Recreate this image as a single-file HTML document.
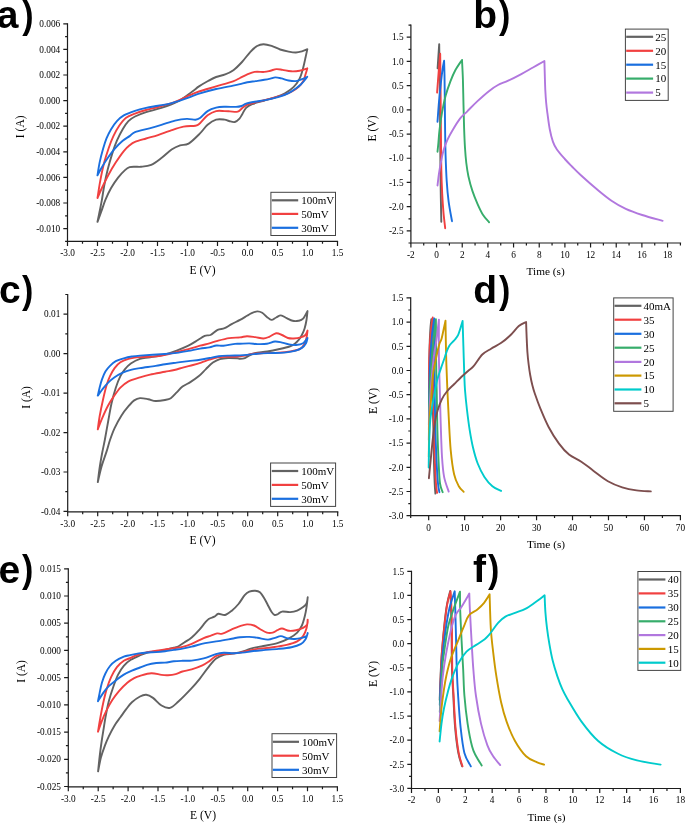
<!DOCTYPE html>
<html><head><meta charset="utf-8"><title>Figure</title>
<style>html,body{margin:0;padding:0;background:#fff;}body{width:685px;height:823px;overflow:hidden;font-family:"Liberation Serif",serif;}svg{display:block;will-change:transform;}</style>
</head><body>
<svg width="685" height="823" viewBox="0 0 685 823">
<text x="67.5" y="256.2" font-size="9.3" text-anchor="middle" font-family="Liberation Serif" font-weight="normal">-3.0</text>
<text x="97.5" y="256.2" font-size="9.3" text-anchor="middle" font-family="Liberation Serif" font-weight="normal">-2.5</text>
<text x="127.5" y="256.2" font-size="9.3" text-anchor="middle" font-family="Liberation Serif" font-weight="normal">-2.0</text>
<text x="157.5" y="256.2" font-size="9.3" text-anchor="middle" font-family="Liberation Serif" font-weight="normal">-1.5</text>
<text x="187.5" y="256.2" font-size="9.3" text-anchor="middle" font-family="Liberation Serif" font-weight="normal">-1.0</text>
<text x="217.5" y="256.2" font-size="9.3" text-anchor="middle" font-family="Liberation Serif" font-weight="normal">-0.5</text>
<text x="247.5" y="256.2" font-size="9.3" text-anchor="middle" font-family="Liberation Serif" font-weight="normal">0.0</text>
<text x="277.5" y="256.2" font-size="9.3" text-anchor="middle" font-family="Liberation Serif" font-weight="normal">0.5</text>
<text x="307.5" y="256.2" font-size="9.3" text-anchor="middle" font-family="Liberation Serif" font-weight="normal">1.0</text>
<text x="337.5" y="256.2" font-size="9.3" text-anchor="middle" font-family="Liberation Serif" font-weight="normal">1.5</text>
<text x="60.2" y="27" font-size="9.3" text-anchor="end" font-family="Liberation Serif" font-weight="normal">0.006</text>
<text x="60.2" y="52.6" font-size="9.3" text-anchor="end" font-family="Liberation Serif" font-weight="normal">0.004</text>
<text x="60.2" y="78.2" font-size="9.3" text-anchor="end" font-family="Liberation Serif" font-weight="normal">0.002</text>
<text x="60.2" y="103.8" font-size="9.3" text-anchor="end" font-family="Liberation Serif" font-weight="normal">0.000</text>
<text x="60.2" y="129.4" font-size="9.3" text-anchor="end" font-family="Liberation Serif" font-weight="normal">-0.002</text>
<text x="60.2" y="155" font-size="9.3" text-anchor="end" font-family="Liberation Serif" font-weight="normal">-0.004</text>
<text x="60.2" y="180.6" font-size="9.3" text-anchor="end" font-family="Liberation Serif" font-weight="normal">-0.006</text>
<text x="60.2" y="206.2" font-size="9.3" text-anchor="end" font-family="Liberation Serif" font-weight="normal">-0.008</text>
<text x="60.2" y="231.8" font-size="9.3" text-anchor="end" font-family="Liberation Serif" font-weight="normal">-0.010</text>
<path d="M67.5,241.4v4.5M82.5,241.4v2.4M97.5,241.4v4.5M112.5,241.4v2.4M127.5,241.4v4.5M142.5,241.4v2.4M157.5,241.4v4.5M172.5,241.4v2.4M187.5,241.4v4.5M202.5,241.4v2.4M217.5,241.4v4.5M232.5,241.4v2.4M247.5,241.4v4.5M262.5,241.4v2.4M277.5,241.4v4.5M292.5,241.4v2.4M307.5,241.4v4.5M322.5,241.4v2.4M337.5,241.4v4.5M67.5,23.8h-4.2M67.5,36.6h-2.4M67.5,49.4h-4.2M67.5,62.2h-2.4M67.5,75h-4.2M67.5,87.8h-2.4M67.5,100.6h-4.2M67.5,113.4h-2.4M67.5,126.2h-4.2M67.5,139h-2.4M67.5,151.8h-4.2M67.5,164.6h-2.4M67.5,177.4h-4.2M67.5,190.2h-2.4M67.5,203h-4.2M67.5,215.8h-2.4M67.5,228.6h-4.2M67.5,241.4h-2.4" stroke="#1c1c1c" stroke-width="1.2" fill="none"/>
<path d="M67.5,23.8V241.4H337.5" stroke="#1c1c1c" stroke-width="1.2" fill="none" stroke-linejoin="miter" stroke-linecap="square"/>
<text x="67.7" y="526.6" font-size="9.3" text-anchor="middle" font-family="Liberation Serif" font-weight="normal">-3.0</text>
<text x="97.7" y="526.6" font-size="9.3" text-anchor="middle" font-family="Liberation Serif" font-weight="normal">-2.5</text>
<text x="127.7" y="526.6" font-size="9.3" text-anchor="middle" font-family="Liberation Serif" font-weight="normal">-2.0</text>
<text x="157.7" y="526.6" font-size="9.3" text-anchor="middle" font-family="Liberation Serif" font-weight="normal">-1.5</text>
<text x="187.7" y="526.6" font-size="9.3" text-anchor="middle" font-family="Liberation Serif" font-weight="normal">-1.0</text>
<text x="217.7" y="526.6" font-size="9.3" text-anchor="middle" font-family="Liberation Serif" font-weight="normal">-0.5</text>
<text x="247.7" y="526.6" font-size="9.3" text-anchor="middle" font-family="Liberation Serif" font-weight="normal">0.0</text>
<text x="277.7" y="526.6" font-size="9.3" text-anchor="middle" font-family="Liberation Serif" font-weight="normal">0.5</text>
<text x="307.7" y="526.6" font-size="9.3" text-anchor="middle" font-family="Liberation Serif" font-weight="normal">1.0</text>
<text x="337.7" y="526.6" font-size="9.3" text-anchor="middle" font-family="Liberation Serif" font-weight="normal">1.5</text>
<text x="60.4" y="317.42" font-size="9.3" text-anchor="end" font-family="Liberation Serif" font-weight="normal">0.01</text>
<text x="60.4" y="356.86" font-size="9.3" text-anchor="end" font-family="Liberation Serif" font-weight="normal">0.00</text>
<text x="60.4" y="396.3" font-size="9.3" text-anchor="end" font-family="Liberation Serif" font-weight="normal">-0.01</text>
<text x="60.4" y="435.74" font-size="9.3" text-anchor="end" font-family="Liberation Serif" font-weight="normal">-0.02</text>
<text x="60.4" y="475.18" font-size="9.3" text-anchor="end" font-family="Liberation Serif" font-weight="normal">-0.03</text>
<text x="60.4" y="514.62" font-size="9.3" text-anchor="end" font-family="Liberation Serif" font-weight="normal">-0.04</text>
<path d="M67.7,511.8v4.5M82.7,511.8v2.4M97.7,511.8v4.5M112.7,511.8v2.4M127.7,511.8v4.5M142.7,511.8v2.4M157.7,511.8v4.5M172.7,511.8v2.4M187.7,511.8v4.5M202.7,511.8v2.4M217.7,511.8v4.5M232.7,511.8v2.4M247.7,511.8v4.5M262.7,511.8v2.4M277.7,511.8v4.5M292.7,511.8v2.4M307.7,511.8v4.5M322.7,511.8v2.4M337.7,511.8v4.5M67.7,294.5h-2.4M67.7,314.22h-4.2M67.7,333.94h-2.4M67.7,353.66h-4.2M67.7,373.38h-2.4M67.7,393.1h-4.2M67.7,412.82h-2.4M67.7,432.54h-4.2M67.7,452.26h-2.4M67.7,471.98h-4.2M67.7,491.7h-2.4M67.7,511.42h-4.2" stroke="#1c1c1c" stroke-width="1.2" fill="none"/>
<path d="M67.7,294.5V511.8H337.7" stroke="#1c1c1c" stroke-width="1.2" fill="none" stroke-linejoin="miter" stroke-linecap="square"/>
<text x="68.3" y="801.6" font-size="9.3" text-anchor="middle" font-family="Liberation Serif" font-weight="normal">-3.0</text>
<text x="98.2" y="801.6" font-size="9.3" text-anchor="middle" font-family="Liberation Serif" font-weight="normal">-2.5</text>
<text x="128.1" y="801.6" font-size="9.3" text-anchor="middle" font-family="Liberation Serif" font-weight="normal">-2.0</text>
<text x="158" y="801.6" font-size="9.3" text-anchor="middle" font-family="Liberation Serif" font-weight="normal">-1.5</text>
<text x="187.9" y="801.6" font-size="9.3" text-anchor="middle" font-family="Liberation Serif" font-weight="normal">-1.0</text>
<text x="217.8" y="801.6" font-size="9.3" text-anchor="middle" font-family="Liberation Serif" font-weight="normal">-0.5</text>
<text x="247.7" y="801.6" font-size="9.3" text-anchor="middle" font-family="Liberation Serif" font-weight="normal">0.0</text>
<text x="277.6" y="801.6" font-size="9.3" text-anchor="middle" font-family="Liberation Serif" font-weight="normal">0.5</text>
<text x="307.5" y="801.6" font-size="9.3" text-anchor="middle" font-family="Liberation Serif" font-weight="normal">1.0</text>
<text x="337.4" y="801.6" font-size="9.3" text-anchor="middle" font-family="Liberation Serif" font-weight="normal">1.5</text>
<text x="61" y="572" font-size="9.3" text-anchor="end" font-family="Liberation Serif" font-weight="normal">0.015</text>
<text x="61" y="599.21" font-size="9.3" text-anchor="end" font-family="Liberation Serif" font-weight="normal">0.010</text>
<text x="61" y="626.42" font-size="9.3" text-anchor="end" font-family="Liberation Serif" font-weight="normal">0.005</text>
<text x="61" y="653.64" font-size="9.3" text-anchor="end" font-family="Liberation Serif" font-weight="normal">0.000</text>
<text x="61" y="680.85" font-size="9.3" text-anchor="end" font-family="Liberation Serif" font-weight="normal">-0.005</text>
<text x="61" y="708.06" font-size="9.3" text-anchor="end" font-family="Liberation Serif" font-weight="normal">-0.010</text>
<text x="61" y="735.27" font-size="9.3" text-anchor="end" font-family="Liberation Serif" font-weight="normal">-0.015</text>
<text x="61" y="762.49" font-size="9.3" text-anchor="end" font-family="Liberation Serif" font-weight="normal">-0.020</text>
<text x="61" y="789.7" font-size="9.3" text-anchor="end" font-family="Liberation Serif" font-weight="normal">-0.025</text>
<path d="M68.3,786.8v4.5M83.25,786.8v2.4M98.2,786.8v4.5M113.15,786.8v2.4M128.1,786.8v4.5M143.05,786.8v2.4M158,786.8v4.5M172.95,786.8v2.4M187.9,786.8v4.5M202.85,786.8v2.4M217.8,786.8v4.5M232.75,786.8v2.4M247.7,786.8v4.5M262.65,786.8v2.4M277.6,786.8v4.5M292.55,786.8v2.4M307.5,786.8v4.5M322.45,786.8v2.4M337.4,786.8v4.5M68.3,568.8h-4.2M68.3,582.41h-2.4M68.3,596.01h-4.2M68.3,609.62h-2.4M68.3,623.22h-4.2M68.3,636.83h-2.4M68.3,650.44h-4.2M68.3,664.04h-2.4M68.3,677.65h-4.2M68.3,691.26h-2.4M68.3,704.86h-4.2M68.3,718.47h-2.4M68.3,732.07h-4.2M68.3,745.68h-2.4M68.3,759.29h-4.2M68.3,772.89h-2.4M68.3,786.5h-4.2" stroke="#1c1c1c" stroke-width="1.2" fill="none"/>
<path d="M68.3,568.8V786.8H337.4" stroke="#1c1c1c" stroke-width="1.2" fill="none" stroke-linejoin="miter" stroke-linecap="square"/>
<text x="410.9" y="257.8" font-size="9.3" text-anchor="middle" font-family="Liberation Serif" font-weight="normal">-2</text>
<text x="436.57" y="257.8" font-size="9.3" text-anchor="middle" font-family="Liberation Serif" font-weight="normal">0</text>
<text x="462.23" y="257.8" font-size="9.3" text-anchor="middle" font-family="Liberation Serif" font-weight="normal">2</text>
<text x="487.9" y="257.8" font-size="9.3" text-anchor="middle" font-family="Liberation Serif" font-weight="normal">4</text>
<text x="513.56" y="257.8" font-size="9.3" text-anchor="middle" font-family="Liberation Serif" font-weight="normal">6</text>
<text x="539.23" y="257.8" font-size="9.3" text-anchor="middle" font-family="Liberation Serif" font-weight="normal">8</text>
<text x="564.9" y="257.8" font-size="9.3" text-anchor="middle" font-family="Liberation Serif" font-weight="normal">10</text>
<text x="590.56" y="257.8" font-size="9.3" text-anchor="middle" font-family="Liberation Serif" font-weight="normal">12</text>
<text x="616.23" y="257.8" font-size="9.3" text-anchor="middle" font-family="Liberation Serif" font-weight="normal">14</text>
<text x="641.89" y="257.8" font-size="9.3" text-anchor="middle" font-family="Liberation Serif" font-weight="normal">16</text>
<text x="667.56" y="257.8" font-size="9.3" text-anchor="middle" font-family="Liberation Serif" font-weight="normal">18</text>
<text x="403.6" y="40.41" font-size="9.3" text-anchor="end" font-family="Liberation Serif" font-weight="normal">1.5</text>
<text x="403.6" y="64.61" font-size="9.3" text-anchor="end" font-family="Liberation Serif" font-weight="normal">1.0</text>
<text x="403.6" y="88.83" font-size="9.3" text-anchor="end" font-family="Liberation Serif" font-weight="normal">0.5</text>
<text x="403.6" y="113.04" font-size="9.3" text-anchor="end" font-family="Liberation Serif" font-weight="normal">0.0</text>
<text x="403.6" y="137.25" font-size="9.3" text-anchor="end" font-family="Liberation Serif" font-weight="normal">-0.5</text>
<text x="403.6" y="161.45" font-size="9.3" text-anchor="end" font-family="Liberation Serif" font-weight="normal">-1.0</text>
<text x="403.6" y="185.66" font-size="9.3" text-anchor="end" font-family="Liberation Serif" font-weight="normal">-1.5</text>
<text x="403.6" y="209.88" font-size="9.3" text-anchor="end" font-family="Liberation Serif" font-weight="normal">-2.0</text>
<text x="403.6" y="234.08" font-size="9.3" text-anchor="end" font-family="Liberation Serif" font-weight="normal">-2.5</text>
<path d="M410.9,243v4.5M423.73,243v2.4M436.57,243v4.5M449.4,243v2.4M462.23,243v4.5M475.06,243v2.4M487.9,243v4.5M500.73,243v2.4M513.56,243v4.5M526.4,243v2.4M539.23,243v4.5M552.06,243v2.4M564.9,243v4.5M577.73,243v2.4M590.56,243v4.5M603.39,243v2.4M616.23,243v4.5M629.06,243v2.4M641.89,243v4.5M654.73,243v2.4M667.56,243v4.5M680.39,243v2.4M410.9,25.1h-2.4M410.9,37.2h-4.2M410.9,49.31h-2.4M410.9,61.41h-4.2M410.9,73.52h-2.4M410.9,85.62h-4.2M410.9,97.73h-2.4M410.9,109.84h-4.2M410.9,121.94h-2.4M410.9,134.05h-4.2M410.9,146.15h-2.4M410.9,158.25h-4.2M410.9,170.36h-2.4M410.9,182.47h-4.2M410.9,194.57h-2.4M410.9,206.68h-4.2M410.9,218.78h-2.4M410.9,230.88h-4.2M410.9,242.99h-2.4" stroke="#1c1c1c" stroke-width="1.2" fill="none"/>
<path d="M410.9,25.1V243H680.5" stroke="#1c1c1c" stroke-width="1.2" fill="none" stroke-linejoin="miter" stroke-linecap="square"/>
<text x="428.68" y="530.5" font-size="9.3" text-anchor="middle" font-family="Liberation Serif" font-weight="normal">0</text>
<text x="464.64" y="530.5" font-size="9.3" text-anchor="middle" font-family="Liberation Serif" font-weight="normal">10</text>
<text x="500.6" y="530.5" font-size="9.3" text-anchor="middle" font-family="Liberation Serif" font-weight="normal">20</text>
<text x="536.56" y="530.5" font-size="9.3" text-anchor="middle" font-family="Liberation Serif" font-weight="normal">30</text>
<text x="572.52" y="530.5" font-size="9.3" text-anchor="middle" font-family="Liberation Serif" font-weight="normal">40</text>
<text x="608.48" y="530.5" font-size="9.3" text-anchor="middle" font-family="Liberation Serif" font-weight="normal">50</text>
<text x="644.44" y="530.5" font-size="9.3" text-anchor="middle" font-family="Liberation Serif" font-weight="normal">60</text>
<text x="680.4" y="530.5" font-size="9.3" text-anchor="middle" font-family="Liberation Serif" font-weight="normal">70</text>
<text x="403.4" y="301.1" font-size="9.3" text-anchor="end" font-family="Liberation Serif" font-weight="normal">1.5</text>
<text x="403.4" y="325.3" font-size="9.3" text-anchor="end" font-family="Liberation Serif" font-weight="normal">1.0</text>
<text x="403.4" y="349.5" font-size="9.3" text-anchor="end" font-family="Liberation Serif" font-weight="normal">0.5</text>
<text x="403.4" y="373.7" font-size="9.3" text-anchor="end" font-family="Liberation Serif" font-weight="normal">0.0</text>
<text x="403.4" y="397.9" font-size="9.3" text-anchor="end" font-family="Liberation Serif" font-weight="normal">-0.5</text>
<text x="403.4" y="422.1" font-size="9.3" text-anchor="end" font-family="Liberation Serif" font-weight="normal">-1.0</text>
<text x="403.4" y="446.3" font-size="9.3" text-anchor="end" font-family="Liberation Serif" font-weight="normal">-1.5</text>
<text x="403.4" y="470.5" font-size="9.3" text-anchor="end" font-family="Liberation Serif" font-weight="normal">-2.0</text>
<text x="403.4" y="494.7" font-size="9.3" text-anchor="end" font-family="Liberation Serif" font-weight="normal">-2.5</text>
<text x="403.4" y="518.9" font-size="9.3" text-anchor="end" font-family="Liberation Serif" font-weight="normal">-3.0</text>
<path d="M410.7,515.7v2.4M428.68,515.7v4.5M446.66,515.7v2.4M464.64,515.7v4.5M482.62,515.7v2.4M500.6,515.7v4.5M518.58,515.7v2.4M536.56,515.7v4.5M554.54,515.7v2.4M572.52,515.7v4.5M590.5,515.7v2.4M608.48,515.7v4.5M626.46,515.7v2.4M644.44,515.7v4.5M662.42,515.7v2.4M680.4,515.7v4.5M410.7,297.9h-4.2M410.7,310h-2.4M410.7,322.1h-4.2M410.7,334.2h-2.4M410.7,346.3h-4.2M410.7,358.4h-2.4M410.7,370.5h-4.2M410.7,382.6h-2.4M410.7,394.7h-4.2M410.7,406.8h-2.4M410.7,418.9h-4.2M410.7,431h-2.4M410.7,443.1h-4.2M410.7,455.2h-2.4M410.7,467.3h-4.2M410.7,479.4h-2.4M410.7,491.5h-4.2M410.7,503.6h-2.4M410.7,515.7h-4.2" stroke="#1c1c1c" stroke-width="1.2" fill="none"/>
<path d="M410.7,297.9V515.7H680.4" stroke="#1c1c1c" stroke-width="1.2" fill="none" stroke-linejoin="miter" stroke-linecap="square"/>
<text x="411.5" y="803.3" font-size="9.3" text-anchor="middle" font-family="Liberation Serif" font-weight="normal">-2</text>
<text x="438.39" y="803.3" font-size="9.3" text-anchor="middle" font-family="Liberation Serif" font-weight="normal">0</text>
<text x="465.28" y="803.3" font-size="9.3" text-anchor="middle" font-family="Liberation Serif" font-weight="normal">2</text>
<text x="492.17" y="803.3" font-size="9.3" text-anchor="middle" font-family="Liberation Serif" font-weight="normal">4</text>
<text x="519.06" y="803.3" font-size="9.3" text-anchor="middle" font-family="Liberation Serif" font-weight="normal">6</text>
<text x="545.95" y="803.3" font-size="9.3" text-anchor="middle" font-family="Liberation Serif" font-weight="normal">8</text>
<text x="572.84" y="803.3" font-size="9.3" text-anchor="middle" font-family="Liberation Serif" font-weight="normal">10</text>
<text x="599.73" y="803.3" font-size="9.3" text-anchor="middle" font-family="Liberation Serif" font-weight="normal">12</text>
<text x="626.62" y="803.3" font-size="9.3" text-anchor="middle" font-family="Liberation Serif" font-weight="normal">14</text>
<text x="653.51" y="803.3" font-size="9.3" text-anchor="middle" font-family="Liberation Serif" font-weight="normal">16</text>
<text x="680.4" y="803.3" font-size="9.3" text-anchor="middle" font-family="Liberation Serif" font-weight="normal">18</text>
<text x="404.2" y="574.5" font-size="9.3" text-anchor="end" font-family="Liberation Serif" font-weight="normal">1.5</text>
<text x="404.2" y="598.62" font-size="9.3" text-anchor="end" font-family="Liberation Serif" font-weight="normal">1.0</text>
<text x="404.2" y="622.75" font-size="9.3" text-anchor="end" font-family="Liberation Serif" font-weight="normal">0.5</text>
<text x="404.2" y="646.88" font-size="9.3" text-anchor="end" font-family="Liberation Serif" font-weight="normal">0.0</text>
<text x="404.2" y="671" font-size="9.3" text-anchor="end" font-family="Liberation Serif" font-weight="normal">-0.5</text>
<text x="404.2" y="695.12" font-size="9.3" text-anchor="end" font-family="Liberation Serif" font-weight="normal">-1.0</text>
<text x="404.2" y="719.25" font-size="9.3" text-anchor="end" font-family="Liberation Serif" font-weight="normal">-1.5</text>
<text x="404.2" y="743.38" font-size="9.3" text-anchor="end" font-family="Liberation Serif" font-weight="normal">-2.0</text>
<text x="404.2" y="767.5" font-size="9.3" text-anchor="end" font-family="Liberation Serif" font-weight="normal">-2.5</text>
<text x="404.2" y="791.62" font-size="9.3" text-anchor="end" font-family="Liberation Serif" font-weight="normal">-3.0</text>
<path d="M411.5,788.5v4.5M424.94,788.5v2.4M438.39,788.5v4.5M451.83,788.5v2.4M465.28,788.5v4.5M478.73,788.5v2.4M492.17,788.5v4.5M505.62,788.5v2.4M519.06,788.5v4.5M532.5,788.5v2.4M545.95,788.5v4.5M559.39,788.5v2.4M572.84,788.5v4.5M586.28,788.5v2.4M599.73,788.5v4.5M613.17,788.5v2.4M626.62,788.5v4.5M640.07,788.5v2.4M653.51,788.5v4.5M666.96,788.5v2.4M680.4,788.5v4.5M411.5,571.3h-4.2M411.5,583.36h-2.4M411.5,595.42h-4.2M411.5,607.49h-2.4M411.5,619.55h-4.2M411.5,631.61h-2.4M411.5,643.67h-4.2M411.5,655.74h-2.4M411.5,667.8h-4.2M411.5,679.86h-2.4M411.5,691.92h-4.2M411.5,703.99h-2.4M411.5,716.05h-4.2M411.5,728.11h-2.4M411.5,740.17h-4.2M411.5,752.24h-2.4M411.5,764.3h-4.2M411.5,776.36h-2.4M411.5,788.42h-4.2" stroke="#1c1c1c" stroke-width="1.2" fill="none"/>
<path d="M411.5,571.3V788.5H680.4" stroke="#1c1c1c" stroke-width="1.2" fill="none" stroke-linejoin="miter" stroke-linecap="square"/>
<text x="202.5" y="274.3" font-size="11.6" text-anchor="middle" font-family="Liberation Serif" font-weight="normal">E (V)</text>
<text x="202.5" y="544.2" font-size="11.6" text-anchor="middle" font-family="Liberation Serif" font-weight="normal">E (V)</text>
<text x="203" y="818.7" font-size="11.6" text-anchor="middle" font-family="Liberation Serif" font-weight="normal">E (V)</text>
<text x="545.6" y="275.3" font-size="11.3" text-anchor="middle" font-family="Liberation Serif" font-weight="normal">Time (s)</text>
<text x="546" y="547.8" font-size="11.3" text-anchor="middle" font-family="Liberation Serif" font-weight="normal">Time (s)</text>
<text x="546.5" y="820.8" font-size="11.3" text-anchor="middle" font-family="Liberation Serif" font-weight="normal">Time (s)</text>
<text x="0" y="0" font-size="11.5" text-anchor="middle" font-family="Liberation Serif" transform="translate(23.5,126.8) rotate(-90)">I (A)</text>
<text x="0" y="0" font-size="11.5" text-anchor="middle" font-family="Liberation Serif" transform="translate(29.6,397.4) rotate(-90)">I (A)</text>
<text x="0" y="0" font-size="11.5" text-anchor="middle" font-family="Liberation Serif" transform="translate(24.8,671.4) rotate(-90)">I (A)</text>
<text x="0" y="0" font-size="11.6" text-anchor="middle" font-family="Liberation Serif" transform="translate(376,128.5) rotate(-90)">E (V)</text>
<text x="0" y="0" font-size="11.6" text-anchor="middle" font-family="Liberation Serif" transform="translate(376.8,400.9) rotate(-90)">E (V)</text>
<text x="0" y="0" font-size="11.6" text-anchor="middle" font-family="Liberation Serif" transform="translate(377.3,674) rotate(-90)">E (V)</text>
<path d="M97.5,221.8C97.83,220.17 98.77,215.65 99.5,212C100.23,208.35 101.12,204.28 101.9,199.9C102.68,195.52 103.23,190.75 104.2,185.7C105.17,180.65 106.35,174.98 107.7,169.6C109.05,164.22 110.77,158.22 112.3,153.4C113.83,148.58 115.17,144.73 116.9,140.7C118.63,136.67 120.78,132.47 122.7,129.2C124.62,125.93 126.35,123.22 128.4,121.1C130.45,118.98 132.05,118 135,116.5C137.95,115 141.7,113.53 146.1,112.1C150.5,110.67 156.02,109.73 161.4,107.9C166.78,106.07 173.3,103.8 178.4,101.1C183.5,98.4 188.57,94.15 192,91.7C195.43,89.25 196.33,88.18 199,86.4C201.67,84.62 205.15,82.57 208,81C210.85,79.43 213.23,78.1 216.1,77C218.97,75.9 222.32,75.53 225.2,74.4C228.08,73.27 230.6,72.27 233.4,70.2C236.2,68.13 239.17,65.07 242,62C244.83,58.93 247.88,54.47 250.4,51.8C252.92,49.13 254.92,47.27 257.1,46C259.28,44.73 261.08,44.22 263.5,44.2C265.92,44.18 268.83,45.02 271.6,45.9C274.37,46.78 277.27,48.55 280.1,49.5C282.93,50.45 285.97,51.1 288.6,51.6C291.23,52.1 293.67,52.55 295.9,52.5C298.13,52.45 300.1,51.85 302,51.3C303.9,50.75 306.42,49.55 307.3,49.2C307.03,50.45 306.38,53.62 305.7,56.7C305.02,59.78 304.22,64.05 303.2,67.7C302.18,71.35 301.22,75.37 299.6,78.6C297.98,81.83 295.93,84.67 293.5,87.1C291.07,89.53 287.83,91.57 285,93.2C282.17,94.83 279.95,95.68 276.5,96.9C273.05,98.12 268.35,99.28 264.3,100.5C260.25,101.72 255.23,102.98 252.2,104.2C249.17,105.42 247.73,106.18 246.1,107.8C244.47,109.42 243.5,112.1 242.4,113.9C241.3,115.7 240.77,117.25 239.5,118.6C238.23,119.95 236.55,121.6 234.8,122C233.05,122.4 230.7,121.4 229,121C227.3,120.6 226.75,119.83 224.6,119.6C222.45,119.37 218.93,118.75 216.1,119.6C213.27,120.45 210.28,122.4 207.6,124.7C204.92,127 203.17,130.25 200,133.4C196.83,136.55 191.92,141.62 188.6,143.6C185.28,145.58 182.93,144.32 180.1,145.3C177.27,146.28 174.72,147.38 171.6,149.5C168.48,151.62 164.8,155.45 161.4,158C158,160.55 154.6,163.33 151.2,164.8C147.8,166.27 143.7,166.48 141,166.8C138.3,167.12 136.9,166.63 135,166.7C133.1,166.77 131.27,166.63 129.6,167.2C127.93,167.77 126.92,168.37 125,170.1C123.08,171.83 120.42,174.62 118.1,177.6C115.78,180.58 113.22,184.28 111.1,188C108.98,191.72 107,196.07 105.4,199.9C103.8,203.73 102.82,207.35 101.5,211C100.18,214.65 98.17,220 97.5,221.8" stroke="#626262" stroke-width="1.9" fill="none" stroke-linejoin="round" stroke-linecap="round"/>
<path d="M97.5,198C97.95,195.18 99.08,187 100.2,181.1C101.32,175.2 102.77,168.17 104.2,162.6C105.63,157.03 107.27,152.12 108.8,147.7C110.33,143.28 111.67,139.77 113.4,136.1C115.13,132.43 117.08,128.77 119.2,125.7C121.32,122.63 123.47,119.72 126.1,117.7C128.73,115.68 131.68,114.88 135,113.6C138.32,112.32 142.17,111.1 146,110C149.83,108.9 153.17,108.35 158,107C162.83,105.65 169.67,103.87 175,101.9C180.33,99.93 186,96.93 190,95.2C194,93.47 194.65,92.97 199,91.5C203.35,90.03 210.42,88.1 216.1,86.4C221.78,84.7 229.12,82.7 233.1,81.3C237.08,79.9 237.63,79.15 240,78C242.37,76.85 244.87,75.42 247.3,74.4C249.73,73.38 251.77,72.32 254.6,71.9C257.43,71.48 261.67,72.1 264.3,71.9C266.93,71.7 268.37,71.17 270.4,70.7C272.43,70.23 274.47,69.23 276.5,69.1C278.53,68.97 280.17,69.53 282.6,69.9C285.03,70.27 288.27,71.17 291.1,71.3C293.93,71.43 296.9,71.2 299.6,70.7C302.3,70.2 306.02,68.7 307.3,68.3C307.03,69.22 306.38,71.67 305.7,73.8C305.02,75.93 304.42,78.88 303.2,81.1C301.98,83.32 300.42,85.28 298.4,87.1C296.38,88.92 293.95,90.57 291.1,92C288.25,93.43 284.75,94.58 281.3,95.7C277.85,96.82 274.25,97.7 270.4,98.7C266.55,99.7 261.85,100.78 258.2,101.7C254.55,102.62 250.95,103.32 248.5,104.2C246.05,105.08 245,105.93 243.5,107C242,108.07 240.67,109.78 239.5,110.6C238.33,111.42 238.08,111.77 236.5,111.9C234.92,112.03 231.98,111.53 230,111.4C228.02,111.27 226.92,111.15 224.6,111.1C222.28,111.05 218.93,110.4 216.1,111.1C213.27,111.8 210.28,113.28 207.6,115.3C204.92,117.32 202.03,121.47 200,123.2C197.97,124.93 198.15,125.13 195.4,125.7C192.65,126.27 187.75,125.75 183.5,126.6C179.25,127.45 174.15,129.38 169.9,130.8C165.65,132.22 161.97,133.82 158,135.1C154.03,136.38 149.93,137.37 146.1,138.5C142.27,139.63 137.75,140.77 135,141.9C132.25,143.03 131.47,143.77 129.6,145.3C127.73,146.83 126.12,148.22 123.8,151.1C121.48,153.98 118.2,158.75 115.7,162.6C113.2,166.45 111.1,169.97 108.8,174.2C106.5,178.43 103.78,184.03 101.9,188C100.02,191.97 98.23,196.33 97.5,198" stroke="#F14040" stroke-width="1.9" fill="none" stroke-linejoin="round" stroke-linecap="round"/>
<path d="M97.5,175.3C97.85,173.18 98.67,167.02 99.6,162.6C100.53,158.18 101.95,152.83 103.1,148.8C104.25,144.77 105.17,141.67 106.5,138.4C107.83,135.13 109.37,132.08 111.1,129.2C112.83,126.32 114.78,123.4 116.9,121.1C119.02,118.8 120.78,117.12 123.8,115.4C126.82,113.68 131.28,112.05 135,110.8C138.72,109.55 142.27,108.73 146.1,107.9C149.93,107.07 154.03,106.52 158,105.8C161.97,105.08 165.65,104.67 169.9,103.6C174.15,102.53 178.48,101.1 183.5,99.4C188.52,97.7 194.57,95.13 200,93.4C205.43,91.67 210.58,90.3 216.1,89C221.62,87.7 229.12,86.42 233.1,85.6C237.08,84.78 237.63,84.65 240,84.1C242.37,83.55 244.67,82.8 247.3,82.3C249.93,81.8 252.97,81.52 255.8,81.1C258.63,80.68 261.87,80.22 264.3,79.8C266.73,79.38 268.57,79 270.4,78.6C272.23,78.2 273.48,77.43 275.3,77.4C277.12,77.37 279.08,77.88 281.3,78.4C283.52,78.92 286.17,80.05 288.6,80.5C291.03,80.95 293.67,81.32 295.9,81.1C298.13,80.88 300.1,79.92 302,79.2C303.9,78.48 306.42,77.2 307.3,76.8C306.83,77.42 305.58,79.22 304.5,80.5C303.42,81.78 302.23,83.18 300.8,84.5C299.37,85.82 297.93,86.95 295.9,88.4C293.87,89.85 291.43,91.78 288.6,93.2C285.77,94.62 282.55,95.78 278.9,96.9C275.25,98.02 270.75,99.1 266.7,99.9C262.65,100.7 258.03,101.08 254.6,101.7C251.17,102.32 248.28,102.88 246.1,103.6C243.92,104.32 243.18,105.45 241.5,106C239.82,106.55 238.82,106.77 236,106.9C233.18,107.03 227.92,106.67 224.6,106.8C221.28,106.93 218.93,106.98 216.1,107.7C213.27,108.42 210.28,109.37 207.6,111.1C204.92,112.83 202.03,116.65 200,118.1C197.97,119.55 197.58,119.67 195.4,119.8C193.22,119.93 190.3,118.77 186.9,118.9C183.5,119.03 179.25,119.6 175,120.6C170.75,121.6 165.65,123.62 161.4,124.9C157.15,126.18 153.9,127.1 149.5,128.3C145.1,129.5 138.32,130.8 135,132.1C131.68,133.4 131.65,134.67 129.6,136.1C127.55,137.53 125.2,138.58 122.7,140.7C120.2,142.82 117.1,145.92 114.6,148.8C112.1,151.68 109.82,154.93 107.7,158C105.58,161.07 103.6,164.32 101.9,167.2C100.2,170.08 98.23,173.95 97.5,175.3" stroke="#1A6FDF" stroke-width="1.9" fill="none" stroke-linejoin="round" stroke-linecap="round"/>
<path d="M97.8,482.1C98.13,479.53 99.05,471.67 99.8,466.7C100.55,461.73 101.45,456.83 102.3,452.3C103.15,447.77 103.88,444.88 104.9,439.5C105.92,434.12 107.28,426.08 108.4,420C109.52,413.92 110.37,408.38 111.6,403C112.83,397.62 114.33,392.17 115.8,387.7C117.27,383.23 118.87,379.28 120.4,376.2C121.93,373.12 123.27,371.32 125,369.2C126.73,367.08 128.3,365.23 130.8,363.5C133.3,361.77 136.78,359.83 140,358.8C143.22,357.77 145.93,358.02 150.1,357.3C154.27,356.58 160.57,355.62 165,354.5C169.43,353.38 172.8,352.07 176.7,350.6C180.6,349.13 185.28,347.2 188.4,345.7C191.52,344.2 192.68,343.25 195.4,341.6C198.12,339.95 202.18,336.9 204.7,335.8C207.22,334.7 208.35,335.98 210.5,335C212.65,334.02 215.25,331.03 217.6,329.9C219.95,328.77 222.27,329.17 224.6,328.2C226.93,327.23 229.03,325.48 231.6,324.1C234.17,322.72 237.43,321.28 240,319.9C242.57,318.52 245.05,316.93 247,315.8C248.95,314.67 249.95,313.83 251.7,313.1C253.45,312.37 255.75,311.45 257.5,311.4C259.25,311.35 260.63,311.88 262.2,312.8C263.77,313.72 265.35,315.72 266.9,316.9C268.45,318.08 269.95,319.8 271.5,319.9C273.05,320 274.63,318.25 276.2,317.5C277.77,316.75 279.15,315.3 280.9,315.4C282.65,315.5 284.75,317.2 286.7,318.1C288.65,319 290.65,320.35 292.6,320.8C294.55,321.25 296.65,321.15 298.4,320.8C300.15,320.45 301.58,320.32 303.1,318.7C304.62,317.08 306.77,312.37 307.5,311.1C307.33,312.58 306.98,317.1 306.5,320C306.02,322.9 305.35,326.05 304.6,328.5C303.85,330.95 302.95,332.83 302,334.7C301.05,336.57 300.15,338.15 298.9,339.7C297.65,341.25 296.05,342.87 294.5,344C292.95,345.13 292.08,345.67 289.6,346.5C287.12,347.33 283.33,348.17 279.6,349C275.87,349.83 271.33,350.78 267.2,351.5C263.07,352.22 257.9,352.58 254.8,353.3C251.7,354.02 250.25,355 248.6,355.8C246.95,356.6 246.33,357.6 244.9,358.1C243.47,358.6 241.25,358.77 240,358.8C238.75,358.83 239.38,358.43 237.4,358.3C235.42,358.17 231.02,357.87 228.1,358C225.18,358.13 222.43,358.33 219.9,359.1C217.37,359.87 215.23,360.93 212.9,362.6C210.57,364.27 208.23,366.85 205.9,369.1C203.57,371.35 201.43,373.97 198.9,376.1C196.37,378.23 193.43,380.15 190.7,381.9C187.97,383.65 184.83,384.85 182.5,386.6C180.17,388.35 178.65,390.47 176.7,392.4C174.75,394.33 172.75,396.93 170.8,398.2C168.85,399.47 167.53,399.53 165,400C162.47,400.47 158.38,401.13 155.6,401C152.82,400.87 150.9,399.68 148.3,399.2C145.7,398.72 142.35,397.9 140,398.1C137.65,398.3 136.12,399.05 134.2,400.4C132.28,401.75 130.62,403.7 128.5,406.2C126.38,408.7 123.82,411.75 121.5,415.4C119.18,419.05 116.52,424 114.6,428.1C112.68,432.2 111.33,436.12 110,440C108.67,443.88 108.02,446.95 106.6,451.4C105.18,455.85 102.97,461.58 101.5,466.7C100.03,471.82 98.42,479.53 97.8,482.1" stroke="#626262" stroke-width="1.9" fill="none" stroke-linejoin="round" stroke-linecap="round"/>
<path d="M97.8,429.3C98.1,427.17 98.72,421.52 99.6,416.5C100.48,411.48 101.95,404.38 103.1,399.2C104.25,394.02 105.35,389.23 106.5,385.4C107.65,381.57 108.65,379.08 110,376.2C111.35,373.32 112.87,370.42 114.6,368.1C116.33,365.78 118.08,363.85 120.4,362.3C122.72,360.75 125.23,359.67 128.5,358.8C131.77,357.93 135.48,357.5 140,357.1C144.52,356.7 151.43,356.78 155.6,356.4C159.77,356.02 161.48,355.52 165,354.8C168.52,354.08 172.8,353.03 176.7,352.1C180.6,351.17 184.52,350.27 188.4,349.2C192.28,348.13 196.5,346.67 200,345.7C203.5,344.73 206.47,344.22 209.4,343.4C212.33,342.58 214.3,341.68 217.6,340.8C220.9,339.92 225.47,338.67 229.2,338.1C232.93,337.53 237.03,337.72 240,337.4C242.97,337.08 244.47,336.25 247,336.2C249.53,336.15 252.47,336.72 255.2,337.1C257.93,337.48 261.07,338.55 263.4,338.5C265.73,338.45 267.07,337.67 269.2,336.8C271.33,335.93 274.07,333.6 276.2,333.3C278.33,333 280.05,334.22 282,335C283.95,335.78 285.95,337.42 287.9,338C289.85,338.58 291.57,338.6 293.7,338.5C295.83,338.4 298.75,337.98 300.7,337.4C302.65,336.82 304.27,336.13 305.4,335C306.53,333.87 307.15,331.33 307.5,330.6C307.35,331.73 307.15,335.1 306.6,337.4C306.05,339.7 305.37,342.45 304.2,344.4C303.03,346.35 301.93,347.93 299.6,349.1C297.27,350.27 293.72,350.82 290.2,351.4C286.68,351.98 282.97,352.32 278.5,352.6C274.03,352.88 267.87,352.88 263.4,353.1C258.93,353.32 254.77,353.48 251.7,353.9C248.63,354.32 247.77,355.12 245,355.6C242.23,356.08 238.32,356.6 235.1,356.8C231.88,357 228.62,356.7 225.7,356.8C222.78,356.9 220.32,356.92 217.6,357.4C214.88,357.88 212.13,358.83 209.4,359.7C206.67,360.57 203.93,361.72 201.2,362.6C198.47,363.48 195.92,364.22 193,365C190.08,365.78 186.82,366.47 183.7,367.3C180.58,368.13 177.42,369.25 174.3,370C171.18,370.75 169.03,371.03 165,371.8C160.97,372.57 154.27,373.68 150.1,374.6C145.93,375.52 143.6,376.18 140,377.3C136.4,378.42 131.77,379.57 128.5,381.3C125.23,383.03 122.9,385.1 120.4,387.7C117.9,390.3 115.62,393.82 113.5,396.9C111.38,399.98 109.63,402.55 107.7,406.2C105.77,409.85 103.55,414.95 101.9,418.8C100.25,422.65 98.48,427.55 97.8,429.3" stroke="#F14040" stroke-width="1.9" fill="none" stroke-linejoin="round" stroke-linecap="round"/>
<path d="M97.8,395.6C98.1,394.28 98.92,390.37 99.6,387.7C100.28,385.03 100.93,382.3 101.9,379.6C102.87,376.9 104.05,373.8 105.4,371.5C106.75,369.2 108.27,367.52 110,365.8C111.73,364.08 113.5,362.45 115.8,361.2C118.1,359.95 121.12,359.08 123.8,358.3C126.48,357.52 129.2,356.95 131.9,356.5C134.6,356.05 134.48,356.02 140,355.6C145.52,355.18 158.88,354.45 165,354C171.12,353.55 172.8,353.42 176.7,352.9C180.6,352.38 184.52,351.62 188.4,350.9C192.28,350.18 196.5,349.18 200,348.6C203.5,348.02 206.67,347.92 209.4,347.4C212.13,346.88 214.07,345.78 216.4,345.5C218.73,345.22 220.28,345.97 223.4,345.7C226.52,345.43 232.33,344.22 235.1,343.9C237.87,343.58 237.63,343.88 240,343.8C242.37,343.72 246.38,343.35 249.3,343.4C252.22,343.45 254.57,344.03 257.5,344.1C260.43,344.17 263.98,344.23 266.9,343.8C269.82,343.37 272.48,341.7 275,341.5C277.52,341.3 279.67,342.12 282,342.6C284.33,343.08 286.65,344 289,344.4C291.35,344.8 293.75,345.2 296.1,345C298.45,344.8 301.2,344.37 303.1,343.2C305,342.03 306.77,338.87 307.5,338C307.25,338.87 306.93,341.55 306,343.2C305.07,344.85 303.75,346.63 301.9,347.9C300.05,349.17 297.82,350.02 294.9,350.8C291.98,351.58 288.68,352.22 284.4,352.6C280.12,352.98 273.68,352.92 269.2,353.1C264.72,353.28 261.2,353.4 257.5,353.7C253.8,354 249.92,354.62 247,354.9C244.08,355.18 242.97,355.28 240,355.4C237.03,355.52 232.75,355.47 229.2,355.6C225.65,355.73 222,355.8 218.7,356.2C215.4,356.6 212.52,357.42 209.4,358C206.28,358.58 203.5,359.18 200,359.7C196.5,360.22 192.28,360.62 188.4,361.1C184.52,361.58 180.6,362.08 176.7,362.6C172.8,363.12 168.52,363.65 165,364.2C161.48,364.75 159.77,365.25 155.6,365.9C151.43,366.55 144.13,367.45 140,368.1C135.87,368.75 133.68,369.03 130.8,369.8C127.92,370.57 125.4,371.45 122.7,372.7C120,373.95 117.1,375.57 114.6,377.3C112.1,379.03 109.82,380.98 107.7,383.1C105.58,385.22 103.55,387.92 101.9,390C100.25,392.08 98.48,394.67 97.8,395.6" stroke="#1A6FDF" stroke-width="1.9" fill="none" stroke-linejoin="round" stroke-linecap="round"/>
<path d="M98.1,771.4C98.37,768.83 99.1,761.07 99.7,756C100.3,750.93 101.03,745.6 101.7,741C102.37,736.4 103.05,732.47 103.7,728.4C104.35,724.33 104.75,721.13 105.6,716.6C106.45,712.07 107.48,706.27 108.8,701.2C110.12,696.13 111.95,690.63 113.5,686.2C115.05,681.77 116.38,678 118.1,674.6C119.82,671.2 121.68,668.27 123.8,665.8C125.92,663.33 128.05,661.57 130.8,659.8C133.55,658.03 137.52,656.42 140.3,655.2C143.08,653.98 144.83,653.17 147.5,652.5C150.17,651.83 153.38,651.63 156.3,651.2C159.22,650.77 162.08,650.48 165,649.9C167.92,649.32 171.47,648.35 173.8,647.7C176.13,647.05 177.25,646.87 179,646C180.75,645.13 182.18,643.92 184.3,642.5C186.42,641.08 189.13,639.68 191.7,637.5C194.27,635.32 197.47,631.87 199.7,629.4C201.93,626.93 203.53,624.48 205.1,622.7C206.67,620.92 207.55,619.7 209.1,618.7C210.65,617.7 212.85,617.52 214.4,616.7C215.95,615.88 216.62,614.08 218.4,613.8C220.18,613.52 222.87,615.52 225.1,615C227.33,614.48 229.57,612.53 231.8,610.7C234.03,608.87 236.35,606.58 238.5,604C240.65,601.42 242.9,597.25 244.7,595.2C246.5,593.15 247.55,592.45 249.3,591.7C251.05,590.95 253.43,590.6 255.2,590.7C256.97,590.8 258.35,590.97 259.9,592.3C261.45,593.63 263.05,596.33 264.5,598.7C265.95,601.07 267.38,604.23 268.6,606.5C269.82,608.77 270.78,610.88 271.8,612.3C272.82,613.72 273.67,614.72 274.7,615C275.73,615.28 276.77,614.57 278,614C279.23,613.43 280.07,611.92 282.1,611.6C284.13,611.28 287.68,612.27 290.2,612.1C292.72,611.93 295.05,611.43 297.2,610.6C299.35,609.77 301.53,608.3 303.1,607.1C304.67,605.9 305.83,605.03 306.6,603.4C307.37,601.77 307.52,598.32 307.7,597.3C307.52,598.9 307.08,603.75 306.6,606.9C306.12,610.05 305.58,613.1 304.8,616.2C304.02,619.3 303.17,622.77 301.9,625.5C300.63,628.23 299.35,630.45 297.2,632.6C295.05,634.75 292.3,636.65 289,638.4C285.7,640.15 281.67,641.83 277.4,643.1C273.13,644.37 267.68,645.13 263.4,646C259.12,646.87 254.82,647.48 251.7,648.3C248.58,649.12 247.58,650.05 244.7,650.9C241.82,651.75 237.88,652.75 234.4,653.4C230.92,654.05 226.9,653.9 223.8,654.8C220.7,655.7 218.48,656.58 215.8,658.8C213.12,661.02 210.38,664.77 207.7,668.1C205.02,671.43 202.37,675.47 199.7,678.8C197.03,682.13 195.25,684.32 191.7,688.1C188.15,691.88 182.02,698.22 178.4,701.5C174.78,704.78 172.82,707.13 170,707.8C167.18,708.47 164.33,707.15 161.5,705.5C158.67,703.85 155.55,699.68 153,697.9C150.45,696.12 148.37,695.03 146.2,694.8C144.03,694.57 142.38,695.25 140,696.5C137.62,697.75 134.2,700.18 131.9,702.3C129.6,704.42 128.12,706.7 126.2,709.2C124.28,711.7 122.33,714.6 120.4,717.3C118.47,720 116.53,722.23 114.6,725.4C112.67,728.57 110.43,732.9 108.8,736.3C107.17,739.7 106.12,742.25 104.8,745.8C103.48,749.35 102.02,753.33 100.9,757.6C99.78,761.87 98.57,769.1 98.1,771.4" stroke="#626262" stroke-width="1.9" fill="none" stroke-linejoin="round" stroke-linecap="round"/>
<path d="M98,731.7C98.37,729.5 99.35,723.2 100.2,718.5C101.05,713.8 102.05,708.32 103.1,703.5C104.15,698.68 105.15,694.03 106.5,689.6C107.85,685.17 109.47,680.65 111.2,676.9C112.93,673.15 114.8,669.78 116.9,667.1C119,664.42 121.62,662.28 123.8,660.8C125.98,659.32 127.8,659.15 130,658.2C132.2,657.25 134.08,656.12 137,655.1C139.92,654.08 144.28,652.82 147.5,652.1C150.72,651.38 153.38,651.23 156.3,650.8C159.22,650.37 162.08,649.95 165,649.5C167.92,649.05 170.87,648.55 173.8,648.1C176.73,647.65 179.62,647.52 182.6,646.8C185.58,646.08 188.18,645.25 191.7,643.8C195.22,642.35 200.58,639.43 203.7,638.1C206.82,636.77 208.17,636.58 210.4,635.8C212.63,635.02 215.1,633.75 217.1,633.4C219.1,633.05 219.95,634.37 222.4,633.7C224.85,633.03 228.87,630.67 231.8,629.4C234.73,628.13 237.47,626.93 240,626.1C242.53,625.27 244.67,624.5 247,624.4C249.33,624.3 251.85,624.73 254,625.5C256.15,626.27 257.75,627.82 259.9,629C262.05,630.18 264.77,632 266.9,632.6C269.03,633.2 270.95,633 272.7,632.6C274.45,632.2 275.85,630.88 277.4,630.2C278.95,629.52 280.07,628.4 282,628.5C283.93,628.6 286.65,630.52 289,630.8C291.35,631.08 293.75,630.68 296.1,630.2C298.45,629.72 301.25,628.87 303.1,627.9C304.95,626.93 306.43,625.77 307.2,624.4C307.97,623.03 307.62,620.48 307.7,619.7C307.52,621.07 307.37,625.17 306.6,627.9C305.83,630.63 304.67,633.87 303.1,636.1C301.53,638.33 299.93,639.85 297.2,641.3C294.47,642.75 290.78,643.82 286.7,644.8C282.62,645.78 277.57,646.52 272.7,647.2C267.83,647.88 261.78,648.28 257.5,648.9C253.22,649.52 249.92,650.28 247,650.9C244.08,651.52 242.1,652.18 240,652.6C237.9,653.02 237.1,653.15 234.4,653.4C231.7,653.65 226.9,653.65 223.8,654.1C220.7,654.55 218.25,654.88 215.8,656.1C213.35,657.32 211.33,659.85 209.1,661.4C206.87,662.95 205.3,664.07 202.4,665.4C199.5,666.73 195.03,668.38 191.7,669.4C188.37,670.42 185.07,670.72 182.4,671.5C179.73,672.28 178.1,673.48 175.7,674.1C173.3,674.72 170.37,675.07 168,675.2C165.63,675.33 164.28,675.23 161.5,674.9C158.72,674.57 154.88,673.05 151.3,673.2C147.72,673.35 142.85,674.98 140,675.8C137.15,676.62 136.32,676.95 134.2,678.1C132.08,679.25 129.8,680.58 127.3,682.7C124.8,684.82 121.7,687.92 119.2,690.8C116.7,693.68 114.42,696.73 112.3,700C110.18,703.27 108.23,706.93 106.5,710.4C104.77,713.87 103.32,717.25 101.9,720.8C100.48,724.35 98.65,729.88 98,731.7" stroke="#F14040" stroke-width="1.9" fill="none" stroke-linejoin="round" stroke-linecap="round"/>
<path d="M98,701.2C98.27,699.85 98.95,696.18 99.6,693.1C100.25,690.02 100.93,685.97 101.9,682.7C102.87,679.43 104.05,676.28 105.4,673.5C106.75,670.72 108.27,668.12 110,666C111.73,663.88 113.5,662.35 115.8,660.8C118.1,659.25 121.43,657.65 123.8,656.7C126.17,655.75 127.5,655.65 130,655.1C132.5,654.55 135.88,653.83 138.8,653.4C141.72,652.97 144.58,652.72 147.5,652.5C150.42,652.28 153.38,652.32 156.3,652.1C159.22,651.88 162.08,651.57 165,651.2C167.92,650.83 170.87,650.33 173.8,649.9C176.73,649.47 179.62,649.13 182.6,648.6C185.58,648.07 187.95,647.62 191.7,646.7C195.45,645.78 200.65,644.03 205.1,643.1C209.55,642.17 213.95,641.83 218.4,641.1C222.85,640.37 228.2,639.35 231.8,638.7C235.4,638.05 237.08,637.5 240,637.2C242.92,636.9 246.38,636.8 249.3,636.9C252.22,637 254.38,637.35 257.5,637.8C260.62,638.25 265.08,639.6 268,639.6C270.92,639.6 272.85,638.38 275,637.8C277.15,637.22 278.75,636 280.9,636.1C283.05,636.2 285.57,637.92 287.9,638.4C290.23,638.88 292.57,639.1 294.9,639C297.23,638.9 299.95,638.28 301.9,637.8C303.85,637.32 305.63,636.88 306.6,636.1C307.57,635.32 307.52,633.6 307.7,633.1C307.32,634.18 306.57,637.75 305.4,639.6C304.23,641.45 303.03,642.93 300.7,644.2C298.37,645.47 295.1,646.42 291.4,647.2C287.7,647.98 283.17,648.42 278.5,648.9C273.83,649.38 267.87,649.72 263.4,650.1C258.93,650.48 254.77,650.82 251.7,651.2C248.63,651.58 247.88,652.07 245,652.4C242.12,652.73 237.93,653.13 234.4,653.2C230.87,653.27 226.9,652.65 223.8,652.8C220.7,652.95 219.15,653.17 215.8,654.1C212.45,655.03 207.72,657.32 203.7,658.4C199.68,659.48 195.22,660.2 191.7,660.6C188.18,661 185.58,660.68 182.6,660.8C179.62,660.92 176.73,661 173.8,661.3C170.87,661.6 167.92,662.32 165,662.6C162.08,662.88 159.3,662.63 156.3,663C153.3,663.37 149.72,664.05 147,664.8C144.28,665.55 142.52,666.53 140,667.5C137.48,668.47 134.6,669.42 131.9,670.6C129.2,671.78 126.48,672.97 123.8,674.6C121.12,676.23 118.3,678.47 115.8,680.4C113.3,682.33 110.92,684.08 108.8,686.2C106.68,688.32 104.9,690.6 103.1,693.1C101.3,695.6 98.85,699.85 98,701.2" stroke="#1A6FDF" stroke-width="1.9" fill="none" stroke-linejoin="round" stroke-linecap="round"/>
<path d="M437.6,68.4L439.2,44.1C439.28,50.08 439.57,69.02 439.7,80C439.83,90.98 439.9,98.33 440,110C440.1,121.67 440.18,136.67 440.3,150C440.42,163.33 440.53,178.03 440.7,190C440.87,201.97 441.2,216.5 441.3,221.8" stroke="#626262" stroke-width="1.9" fill="none" stroke-linejoin="round" stroke-linecap="round"/>
<path d="M437.1,92.6C437.38,88.83 438.28,76.47 438.8,70C439.32,63.53 439.97,56.5 440.2,53.8C440.27,59.83 440.48,77.3 440.6,90C440.72,102.7 440.78,116.95 440.9,130C441.02,143.05 441.08,157.67 441.3,168.3C441.52,178.93 441.83,186.37 442.2,193.8C442.57,201.23 443,207.17 443.5,212.9C444,218.63 444.92,225.65 445.2,228.2" stroke="#F14040" stroke-width="1.9" fill="none" stroke-linejoin="round" stroke-linecap="round"/>
<path d="M437.5,121.8C437.75,118.45 438.45,108.08 439,101.7C439.55,95.32 440.2,88.95 440.8,83.5C441.4,78.05 442.05,72.78 442.6,69C443.15,65.22 443.85,62.17 444.1,60.8C444.17,63.17 444.38,68.47 444.5,75C444.62,81.53 444.7,90.83 444.8,100C444.9,109.17 444.97,120.75 445.1,130C445.23,139.25 445.33,147 445.6,155.5C445.87,164 446.2,173.35 446.7,181C447.2,188.65 447.72,194.7 448.6,201.4C449.48,208.1 451.43,217.9 452,221.2" stroke="#1A6FDF" stroke-width="1.9" fill="none" stroke-linejoin="round" stroke-linecap="round"/>
<path d="M437.5,151.7C437.65,150.22 438.07,146.42 438.4,142.8C438.73,139.18 438.9,135.02 439.5,130C440.1,124.98 440.98,118.42 442,112.7C443.02,106.98 444.18,100.97 445.6,95.7C447.02,90.43 448.88,85.35 450.5,81.1C452.12,76.85 453.38,73.73 455.3,70.2C457.22,66.67 460.88,61.62 462,59.9C462.15,63.12 462.65,71.68 462.9,79.2C463.15,86.72 463.3,96.87 463.5,105C463.7,113.13 463.85,120.83 464.1,128C464.35,135.17 464.63,142.17 465,148C465.37,153.83 465.73,158.3 466.3,163C466.87,167.7 467.38,171.55 468.4,176.2C469.42,180.85 470.85,186.22 472.4,190.9C473.95,195.58 475.92,200.28 477.7,204.3C479.48,208.32 481.2,212 483.1,215C485,218 488.1,221.08 489.1,222.3" stroke="#37AD6B" stroke-width="1.9" fill="none" stroke-linejoin="round" stroke-linecap="round"/>
<path d="M437.5,185.5C437.75,183.48 438.42,177.33 439,173.4C439.58,169.47 440.25,165.73 441,161.9C441.75,158.07 442.45,154.02 443.5,150.4C444.55,146.78 445.82,143.52 447.3,140.2C448.78,136.88 450.28,134.1 452.4,130.5C454.52,126.9 457.52,121.8 460,118.6C462.48,115.4 464.38,114.22 467.3,111.3C470.22,108.38 473.85,104.5 477.5,101.1C481.15,97.7 485.78,93.58 489.2,90.9C492.62,88.22 494.83,86.7 498,85C501.17,83.3 504.32,82.52 508.2,80.7C512.08,78.88 517.17,76.3 521.3,74.1C525.43,71.9 529.15,69.68 533,67.5C536.85,65.32 542.5,62.08 544.4,61C544.47,63.33 544.65,70.17 544.8,75C544.95,79.83 545.07,85.33 545.3,90C545.53,94.67 545.85,99.13 546.2,103C546.55,106.87 546.82,108.87 547.4,113.2C547.98,117.53 548.78,124.27 549.7,129C550.62,133.73 551.7,138.18 552.9,141.6C554.1,145.02 554.92,146.6 556.9,149.5C558.88,152.4 562.28,156.17 564.8,159C567.32,161.83 569.32,163.8 572,166.5C574.68,169.2 576.7,171.37 580.9,175.2C585.1,179.03 592.1,185.25 597.2,189.5C602.3,193.75 606.73,197.47 611.5,200.7C616.27,203.93 620.68,206.52 625.8,208.9C630.92,211.28 636.07,213.02 642.2,215C648.33,216.98 659.2,219.83 662.6,220.8" stroke="#B177DE" stroke-width="1.9" fill="none" stroke-linejoin="round" stroke-linecap="round"/>
<path d="M429,420C429.02,413.33 429.02,391.67 429.1,380C429.18,368.33 429.3,358.33 429.5,350C429.7,341.67 430,335.12 430.3,330C430.6,324.88 431.13,321.08 431.3,319.3C431.38,324.42 431.62,338.22 431.8,350C431.98,361.78 432.13,376.67 432.4,390C432.67,403.33 433.13,417.75 433.4,430C433.67,442.25 433.78,454.58 434,463.5C434.22,472.42 434.47,478.48 434.7,483.5C434.93,488.52 435.28,491.92 435.4,493.6" stroke="#626262" stroke-width="1.9" fill="none" stroke-linejoin="round" stroke-linecap="round"/>
<path d="M429,415C429.02,409.17 429.05,389.67 429.1,380C429.15,370.33 429.07,364.5 429.3,357C429.53,349.5 429.93,341.58 430.5,335C431.07,328.42 432.33,320.42 432.7,317.5C432.75,324.08 432.88,344.92 433,357C433.12,369.08 433.23,377.82 433.4,390C433.57,402.18 433.73,417.85 434,430.1C434.27,442.35 434.67,454.6 435,463.5C435.33,472.4 435.65,478.6 436,483.5C436.35,488.4 436.92,491.33 437.1,492.9" stroke="#F14040" stroke-width="1.9" fill="none" stroke-linejoin="round" stroke-linecap="round"/>
<path d="M428.9,425C428.97,419.17 429.05,401.33 429.3,390C429.55,378.67 429.95,366.17 430.4,357C430.85,347.83 431.37,341.43 432,335C432.63,328.57 433.83,321.17 434.2,318.4C434.23,324.83 434.32,345.07 434.4,357C434.48,368.93 434.53,377.82 434.7,390C434.87,402.18 435.07,417.85 435.4,430.1C435.73,442.35 436.27,454.6 436.7,463.5C437.13,472.4 437.55,478.72 438,483.5C438.45,488.28 439.17,490.75 439.4,492.2" stroke="#1A6FDF" stroke-width="1.9" fill="none" stroke-linejoin="round" stroke-linecap="round"/>
<path d="M428.9,430C429,424.17 429,407.17 429.5,395C430,382.83 431.2,366.5 431.9,357C432.6,347.5 433.03,344.28 433.7,338C434.37,331.72 435.53,322.42 435.9,319.3C435.93,325.58 435.97,345.22 436.1,357C436.23,368.78 436.48,377.82 436.7,390C436.92,402.18 437.07,417.85 437.4,430.1C437.73,442.35 438.27,454.6 438.7,463.5C439.13,472.4 439.33,478.72 440,483.5C440.67,488.28 442.25,490.75 442.7,492.2" stroke="#37AD6B" stroke-width="1.9" fill="none" stroke-linejoin="round" stroke-linecap="round"/>
<path d="M428.8,440C428.92,435 429.05,420 429.5,410C429.95,400 430.78,388.83 431.5,380C432.22,371.17 432.97,363.77 433.8,357C434.63,350.23 435.65,345.63 436.5,339.4C437.35,333.17 438.5,322.9 438.9,319.6C438.9,325.83 438.75,345.27 438.9,357C439.05,368.73 439.5,378.93 439.8,390C440.1,401.07 440.33,412.27 440.7,423.4C441.07,434.53 441.43,447.88 442,456.8C442.57,465.72 442.98,471.1 444.1,476.9C445.22,482.7 447.93,489.15 448.7,491.6" stroke="#B177DE" stroke-width="1.9" fill="none" stroke-linejoin="round" stroke-linecap="round"/>
<path d="M428.8,456.8C428.83,454 428.88,446.13 429,440C429.12,433.87 429.17,426.67 429.5,420C429.83,413.33 430.42,407.5 431,400C431.58,392.5 432.12,382.17 433,375C433.88,367.83 435.25,362.12 436.3,357C437.35,351.88 438.43,347.3 439.3,344.3C440.17,341.3 440.8,341.38 441.5,339C442.2,336.62 442.83,333.05 443.5,330C444.17,326.95 445.17,322.25 445.5,320.7C445.57,324.75 445.75,337.62 445.9,345C446.05,352.38 446.15,357.5 446.4,365C446.65,372.5 447.02,381.38 447.4,390C447.78,398.62 448.15,406.68 448.7,416.7C449.25,426.72 449.8,440.52 450.7,450.1C451.6,459.68 452.75,468.18 454.1,474.2C455.45,480.22 457.2,483.27 458.8,486.2C460.4,489.13 462.88,490.87 463.7,491.8" stroke="#CC9900" stroke-width="1.9" fill="none" stroke-linejoin="round" stroke-linecap="round"/>
<path d="M428.7,467.5C428.77,463.75 428.83,452.92 429.1,445C429.37,437.08 429.6,427.5 430.3,420C431,412.5 432.27,406.17 433.3,400C434.33,393.83 435.55,387.33 436.5,383C437.45,378.67 438.1,376.92 439,374C439.9,371.08 440.92,368.33 441.9,365.5C442.88,362.67 444.05,359.48 444.9,357C445.75,354.52 446.23,352.52 447,350.6C447.77,348.68 448.67,346.83 449.5,345.5C450.33,344.17 451.08,343.6 452,342.6C452.92,341.6 453.97,340.8 455,339.5C456.03,338.2 457.28,336.72 458.2,334.8C459.12,332.88 459.77,330.3 460.5,328C461.23,325.7 462.25,322.17 462.6,321C462.73,325.25 463.12,337.5 463.4,346.5C463.68,355.5 464.03,367.75 464.3,375C464.57,382.25 464.55,384.17 465,390C465.45,395.83 466.22,403.32 467,410C467.78,416.68 468.7,423.85 469.7,430.1C470.7,436.35 471.67,441.93 473,447.5C474.33,453.07 475.8,458.6 477.7,463.5C479.6,468.4 481.95,473.12 484.4,476.9C486.85,480.68 489.62,483.87 492.4,486.2C495.18,488.53 499.65,490.12 501.1,490.9" stroke="#00CBCC" stroke-width="1.9" fill="none" stroke-linejoin="round" stroke-linecap="round"/>
<path d="M428.9,478.2C429.18,475.3 429.97,467.2 430.6,460.8C431.23,454.4 432,446.08 432.7,439.8C433.4,433.52 433.98,427.98 434.8,423.1C435.62,418.22 436.43,414.47 437.6,410.5C438.77,406.53 440.18,402.55 441.8,399.3C443.42,396.05 445.22,393.55 447.3,391C449.38,388.45 451.97,386.33 454.3,384C456.63,381.67 458.97,379.22 461.3,377C463.63,374.78 466.25,372.5 468.3,370.7C470.35,368.9 471.27,368.9 473.6,366.2C475.93,363.5 479.38,357.42 482.3,354.5C485.22,351.58 487.93,350.65 491.1,348.7C494.27,346.75 498.13,345 501.3,342.8C504.47,340.6 507.18,338.28 510.1,335.5C513.02,332.72 516.13,328.35 518.8,326.1C521.47,323.85 524.88,322.68 526.1,322C526.18,324.33 526.38,331 526.6,336C526.82,341 527.07,347.33 527.4,352C527.73,356.67 528.13,360.17 528.6,364C529.07,367.83 529.58,371.5 530.2,375C530.82,378.5 531.53,381.92 532.3,385C533.07,388.08 533.45,389.57 534.8,393.5C536.15,397.43 538.1,403.02 540.4,408.6C542.7,414.18 545.53,421.2 548.6,427C551.67,432.8 555.4,438.8 558.8,443.4C562.2,448 565.25,451.55 569,454.6C572.75,457.65 577.2,458.98 581.3,461.7C585.4,464.42 589.17,467.65 593.6,470.9C598.03,474.15 603.13,478.47 607.9,481.2C612.67,483.93 617.43,485.77 622.2,487.3C626.97,488.83 631.73,489.72 636.5,490.4C641.27,491.08 648.42,491.23 650.8,491.4" stroke="#7D4E4E" stroke-width="1.9" fill="none" stroke-linejoin="round" stroke-linecap="round"/>
<path d="M439.7,700C439.85,695.83 440.25,682.83 440.6,675C440.95,667.17 441.13,661.73 441.8,653C442.47,644.27 443.73,630.72 444.6,622.6C445.47,614.48 446.07,609.57 447,604.3C447.93,599.03 449.67,593.22 450.2,591C450.32,593.22 450.68,598.03 450.9,604.3C451.12,610.57 451.32,617.65 451.5,628.6C451.68,639.55 451.7,658.85 452,670C452.3,681.15 452.78,685.93 453.3,695.5C453.82,705.07 454.27,717.83 455.1,727.4C455.93,736.97 457.13,746.42 458.3,752.9C459.47,759.38 461.47,764.07 462.1,766.3" stroke="#626262" stroke-width="1.9" fill="none" stroke-linejoin="round" stroke-linecap="round"/>
<path d="M439.9,698C440.05,694.17 440.47,682.5 440.8,675C441.13,667.5 441.23,661.73 441.9,653C442.57,644.27 443.92,630.72 444.8,622.6C445.68,614.48 446.25,609.53 447.2,604.3C448.15,599.07 449.95,593.38 450.5,591.2C450.63,593.38 451.07,598.07 451.3,604.3C451.53,610.53 451.73,617.65 451.9,628.6C452.07,639.55 452.02,658.85 452.3,670C452.58,681.15 453.07,685.93 453.6,695.5C454.13,705.07 454.65,717.83 455.5,727.4C456.35,736.97 457.53,746.42 458.7,752.9C459.87,759.38 461.87,764.07 462.5,766.3" stroke="#F14040" stroke-width="1.9" fill="none" stroke-linejoin="round" stroke-linecap="round"/>
<path d="M439.8,705C439.97,700.83 440.3,688.67 440.8,680C441.3,671.33 441.97,661.57 442.8,653C443.63,644.43 444.68,636.1 445.8,628.6C446.92,621.1 448.02,614.22 449.5,608C450.98,601.78 453.83,594.08 454.7,591.3C454.8,594.48 455.07,602.15 455.3,610.4C455.53,618.65 455.85,630.87 456.1,640.8C456.35,650.73 456.47,660.88 456.8,670C457.13,679.12 457.47,685.93 458.1,695.5C458.73,705.07 459.55,717.83 460.6,727.4C461.65,736.97 462.7,746.42 464.4,752.9C466.1,759.38 469.73,764.07 470.8,766.3" stroke="#1A6FDF" stroke-width="1.9" fill="none" stroke-linejoin="round" stroke-linecap="round"/>
<path d="M439.8,712C440,708.33 440.55,697.83 441,690C441.45,682.17 442,671.17 442.5,665C443,658.83 443.05,659.47 444,653C444.95,646.53 446.68,633.3 448.2,626.2C449.72,619.1 451.13,616.15 453.1,610.4C455.07,604.65 458.85,594.82 460,591.7C460.03,594.82 459.93,602.22 460.2,610.4C460.47,618.58 461.1,630.87 461.6,640.8C462.1,650.73 462.73,660.88 463.2,670C463.67,679.12 463.67,686.57 464.4,695.5C465.13,704.43 466.32,715.08 467.6,723.6C468.88,732.12 470.7,741.2 472.1,746.6C473.5,752 474.4,752.87 476,756C477.6,759.13 480.75,763.83 481.7,765.4" stroke="#37AD6B" stroke-width="1.9" fill="none" stroke-linejoin="round" stroke-linecap="round"/>
<path d="M439.6,721C439.83,717.5 440.5,707.17 441,700C441.5,692.83 441.8,685.43 442.6,678C443.4,670.57 444.45,663.22 445.8,655.4C447.15,647.58 449.08,637.78 450.7,631.1C452.32,624.42 453.68,619.37 455.5,615.3C457.32,611.23 459.3,610.32 461.6,606.7C463.9,603.08 468.02,595.78 469.3,593.6C469.4,596.4 469.47,601.52 469.9,610.4C470.33,619.28 471.32,636.97 471.9,646.9C472.48,656.83 472.73,661.9 473.4,670C474.07,678.1 474.63,686.57 475.9,695.5C477.17,704.43 479.08,715.3 481,723.6C482.92,731.9 485.4,739.9 487.4,745.3C489.4,750.7 490.87,752.7 493,756C495.13,759.3 499,763.58 500.2,765.1" stroke="#B177DE" stroke-width="1.9" fill="none" stroke-linejoin="round" stroke-linecap="round"/>
<path d="M439.6,731.2C439.92,727.38 440.77,715.32 441.5,708.3C442.23,701.28 443.17,694.65 444,689.1C444.83,683.55 445.38,680.02 446.5,675C447.62,669.98 448.78,664.7 450.7,659C452.62,653.3 455.78,646.27 458,640.8C460.22,635.33 462.18,630.45 464,626.2C465.82,621.95 466.67,618.1 468.9,615.3C471.13,612.5 474.87,611.48 477.4,609.4C479.93,607.32 482.07,605.32 484.1,602.8C486.13,600.28 488.68,595.72 489.6,594.3C489.8,599.95 490.2,618.53 490.8,628.2C491.4,637.87 492.27,644.27 493.2,652.3C494.13,660.33 495.08,668.08 496.4,676.4C497.72,684.72 499.4,694.67 501.1,702.2C502.8,709.73 504.28,715.13 506.6,721.6C508.92,728.07 511.75,735.22 515,741C518.25,746.78 522.4,752.73 526.1,756.3C529.8,759.87 534.2,761.02 537.2,762.4C540.2,763.78 542.95,764.23 544.1,764.6" stroke="#CC9900" stroke-width="1.9" fill="none" stroke-linejoin="round" stroke-linecap="round"/>
<path d="M439.6,741.5C439.92,738.52 440.77,729.13 441.5,723.6C442.23,718.07 442.93,713.62 444,708.3C445.07,702.98 446.62,696.6 447.9,691.7C449.18,686.8 450.02,683.53 451.7,678.9C453.38,674.27 455.53,668.43 458,663.9C460.47,659.37 463.47,654.87 466.5,651.7C469.53,648.53 473.17,646.98 476.2,644.9C479.23,642.82 482.63,640.8 484.7,639.2C486.77,637.6 487.35,636.7 488.6,635.3C489.85,633.9 490.62,632.88 492.2,630.8C493.78,628.72 495.9,625.17 498.1,622.8C500.3,620.43 502.47,618.3 505.4,616.6C508.33,614.9 512.38,613.88 515.7,612.6C519.02,611.32 522.08,610.58 525.3,608.9C528.52,607.22 531.78,604.77 535,602.5C538.22,600.23 543,596.5 544.6,595.3C544.73,598.1 545,606.62 545.4,612.1C545.8,617.58 546.33,622.85 547,628.2C547.67,633.55 548.47,638.85 549.4,644.2C550.33,649.55 551.27,654.93 552.6,660.3C553.93,665.67 555.78,671.58 557.4,676.4C559.02,681.22 560.58,685.37 562.3,689.2C564.02,693.03 564.5,694 567.7,699.4C570.9,704.8 576.42,714.67 581.5,721.6C586.58,728.53 592.18,735.68 598.2,741C604.22,746.32 611.13,750.27 617.6,753.5C624.07,756.73 629.83,758.55 637,760.4C644.17,762.25 656.67,763.9 660.6,764.6" stroke="#00CBCC" stroke-width="1.9" fill="none" stroke-linejoin="round" stroke-linecap="round"/>
<rect x="270.9" y="192.3" width="64.6" height="43.2" fill="#fff" stroke="#444" stroke-width="1"/>
<path d="M271.8,200.3H298.2" stroke="#626262" stroke-width="2.2"/>
<text x="301.2" y="204.1" font-size="11" text-anchor="start" font-family="Liberation Serif" font-weight="normal">100mV</text>
<path d="M271.8,213.9H298.2" stroke="#F14040" stroke-width="2.2"/>
<text x="301.2" y="217.7" font-size="11" text-anchor="start" font-family="Liberation Serif" font-weight="normal">50mV</text>
<path d="M271.8,227.8H298.2" stroke="#1A6FDF" stroke-width="2.2"/>
<text x="301.2" y="231.6" font-size="11" text-anchor="start" font-family="Liberation Serif" font-weight="normal">30mV</text>
<rect x="270.6" y="463" width="65" height="43.4" fill="#fff" stroke="#444" stroke-width="1"/>
<path d="M271.8,471H298.2" stroke="#626262" stroke-width="2.2"/>
<text x="301.2" y="474.8" font-size="11" text-anchor="start" font-family="Liberation Serif" font-weight="normal">100mV</text>
<path d="M271.8,484.9H298.2" stroke="#F14040" stroke-width="2.2"/>
<text x="301.2" y="488.7" font-size="11" text-anchor="start" font-family="Liberation Serif" font-weight="normal">50mV</text>
<path d="M271.8,498.8H298.2" stroke="#1A6FDF" stroke-width="2.2"/>
<text x="301.2" y="502.6" font-size="11" text-anchor="start" font-family="Liberation Serif" font-weight="normal">30mV</text>
<rect x="272" y="733.7" width="64.6" height="43.8" fill="#fff" stroke="#444" stroke-width="1"/>
<path d="M272.8,741.8H299" stroke="#626262" stroke-width="2.2"/>
<text x="302" y="745.6" font-size="11" text-anchor="start" font-family="Liberation Serif" font-weight="normal">100mV</text>
<path d="M272.8,755.7H299" stroke="#F14040" stroke-width="2.2"/>
<text x="302" y="759.5" font-size="11" text-anchor="start" font-family="Liberation Serif" font-weight="normal">50mV</text>
<path d="M272.8,769.8H299" stroke="#1A6FDF" stroke-width="2.2"/>
<text x="302" y="773.6" font-size="11" text-anchor="start" font-family="Liberation Serif" font-weight="normal">30mV</text>
<rect x="625.4" y="29.1" width="42.8" height="71.3" fill="#fff" stroke="#444" stroke-width="1"/>
<path d="M626.2,36.8H653.1" stroke="#626262" stroke-width="2.2"/>
<text x="655.3" y="40.6" font-size="11" text-anchor="start" font-family="Liberation Serif" font-weight="normal">25</text>
<path d="M626.2,50.8H653.1" stroke="#F14040" stroke-width="2.2"/>
<text x="655.3" y="54.6" font-size="11" text-anchor="start" font-family="Liberation Serif" font-weight="normal">20</text>
<path d="M626.2,64.7H653.1" stroke="#1A6FDF" stroke-width="2.2"/>
<text x="655.3" y="68.5" font-size="11" text-anchor="start" font-family="Liberation Serif" font-weight="normal">15</text>
<path d="M626.2,78.6H653.1" stroke="#37AD6B" stroke-width="2.2"/>
<text x="655.3" y="82.4" font-size="11" text-anchor="start" font-family="Liberation Serif" font-weight="normal">10</text>
<path d="M626.2,92.6H653.1" stroke="#B177DE" stroke-width="2.2"/>
<text x="655.3" y="96.4" font-size="11" text-anchor="start" font-family="Liberation Serif" font-weight="normal">5</text>
<rect x="613.7" y="297.9" width="59.4" height="113.4" fill="#fff" stroke="#444" stroke-width="1"/>
<path d="M614.5,305.8H641.4" stroke="#626262" stroke-width="2.2"/>
<text x="643.4" y="309.6" font-size="11" text-anchor="start" font-family="Liberation Serif" font-weight="normal">40mA</text>
<path d="M614.5,319.7H641.4" stroke="#F14040" stroke-width="2.2"/>
<text x="643.4" y="323.5" font-size="11" text-anchor="start" font-family="Liberation Serif" font-weight="normal">35</text>
<path d="M614.5,333.8H641.4" stroke="#1A6FDF" stroke-width="2.2"/>
<text x="643.4" y="337.6" font-size="11" text-anchor="start" font-family="Liberation Serif" font-weight="normal">30</text>
<path d="M614.5,347.7H641.4" stroke="#37AD6B" stroke-width="2.2"/>
<text x="643.4" y="351.5" font-size="11" text-anchor="start" font-family="Liberation Serif" font-weight="normal">25</text>
<path d="M614.5,361.9H641.4" stroke="#B177DE" stroke-width="2.2"/>
<text x="643.4" y="365.7" font-size="11" text-anchor="start" font-family="Liberation Serif" font-weight="normal">20</text>
<path d="M614.5,375.6H641.4" stroke="#CC9900" stroke-width="2.2"/>
<text x="643.4" y="379.4" font-size="11" text-anchor="start" font-family="Liberation Serif" font-weight="normal">15</text>
<path d="M614.5,389.5H641.4" stroke="#00CBCC" stroke-width="2.2"/>
<text x="643.4" y="393.3" font-size="11" text-anchor="start" font-family="Liberation Serif" font-weight="normal">10</text>
<path d="M614.5,403.3H641.4" stroke="#7D4E4E" stroke-width="2.2"/>
<text x="643.4" y="407.1" font-size="11" text-anchor="start" font-family="Liberation Serif" font-weight="normal">5</text>
<rect x="637.9" y="571.5" width="42.8" height="98.9" fill="#fff" stroke="#444" stroke-width="1"/>
<path d="M638.6,579.5H665.4" stroke="#626262" stroke-width="2.2"/>
<text x="667.7" y="583.3" font-size="11" text-anchor="start" font-family="Liberation Serif" font-weight="normal">40</text>
<path d="M638.6,593.4H665.4" stroke="#F14040" stroke-width="2.2"/>
<text x="667.7" y="597.2" font-size="11" text-anchor="start" font-family="Liberation Serif" font-weight="normal">35</text>
<path d="M638.6,607.5H665.4" stroke="#1A6FDF" stroke-width="2.2"/>
<text x="667.7" y="611.3" font-size="11" text-anchor="start" font-family="Liberation Serif" font-weight="normal">30</text>
<path d="M638.6,621.3H665.4" stroke="#37AD6B" stroke-width="2.2"/>
<text x="667.7" y="625.1" font-size="11" text-anchor="start" font-family="Liberation Serif" font-weight="normal">25</text>
<path d="M638.6,635.1H665.4" stroke="#B177DE" stroke-width="2.2"/>
<text x="667.7" y="638.9" font-size="11" text-anchor="start" font-family="Liberation Serif" font-weight="normal">20</text>
<path d="M638.6,648.9H665.4" stroke="#CC9900" stroke-width="2.2"/>
<text x="667.7" y="652.7" font-size="11" text-anchor="start" font-family="Liberation Serif" font-weight="normal">15</text>
<path d="M638.6,662.7H665.4" stroke="#00CBCC" stroke-width="2.2"/>
<text x="667.7" y="666.5" font-size="11" text-anchor="start" font-family="Liberation Serif" font-weight="normal">10</text>
<text x="-3.2" y="28" font-size="39" text-anchor="start" font-family="Liberation Sans" font-weight="bold">a</text>
<text x="0" y="0" font-size="39" font-family="Liberation Sans" font-weight="bold" transform="translate(22.18,28) scale(0.87,1)">)</text>
<text x="473.2" y="28.2" font-size="39" text-anchor="start" font-family="Liberation Sans" font-weight="bold">b</text>
<text x="0" y="0" font-size="39" font-family="Liberation Sans" font-weight="bold" transform="translate(499.08,28.2) scale(0.87,1)">)</text>
<text x="-1" y="302.7" font-size="39" text-anchor="start" font-family="Liberation Sans" font-weight="bold">c</text>
<text x="0" y="0" font-size="39" font-family="Liberation Sans" font-weight="bold" transform="translate(21.88,302.7) scale(0.87,1)">)</text>
<text x="473.3" y="302.6" font-size="39" text-anchor="start" font-family="Liberation Sans" font-weight="bold">d</text>
<text x="0" y="0" font-size="39" font-family="Liberation Sans" font-weight="bold" transform="translate(498.88,302.6) scale(0.87,1)">)</text>
<text x="-1.6" y="582.6" font-size="39" text-anchor="start" font-family="Liberation Sans" font-weight="bold">e</text>
<text x="0" y="0" font-size="39" font-family="Liberation Sans" font-weight="bold" transform="translate(21.88,581.8) scale(0.87,1)">)</text>
<text x="473.1" y="582" font-size="39" text-anchor="start" font-family="Liberation Sans" font-weight="bold">f</text>
<text x="0" y="0" font-size="39" font-family="Liberation Sans" font-weight="bold" transform="translate(487.98,582) scale(0.87,1)">)</text>
</svg>
</body></html>
